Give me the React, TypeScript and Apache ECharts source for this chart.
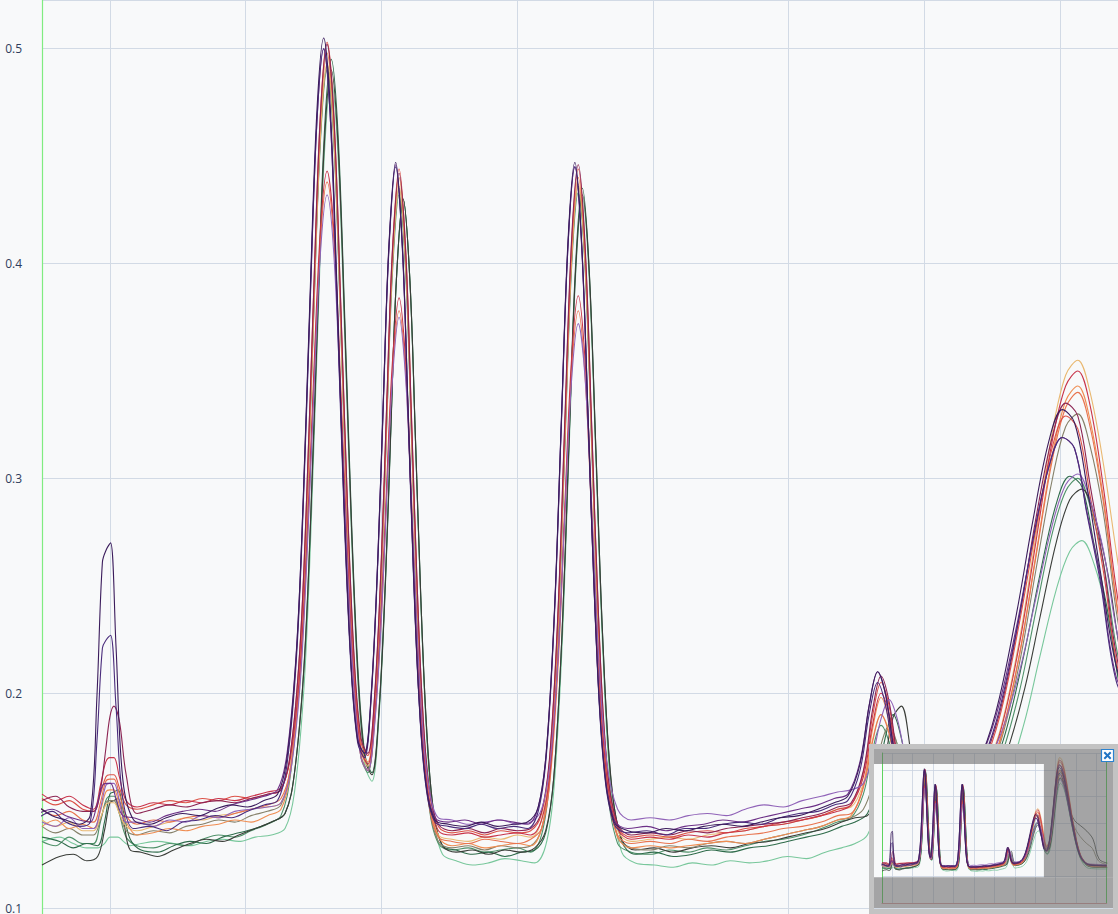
import React, { useEffect, useRef } from "react";
import * as echarts from "echarts";

// shared x positions (grid lines at integers)
const X = [
  0.5, 0.6, 0.7, 0.8,
  0.88, 0.93, 0.97, 1.0, 1.03, 1.07, 1.12,
  1.2, 1.32, 1.44, 1.56, 1.68, 1.8, 1.92, 2.04, 2.16, 2.26,
  2.33, 2.4, 2.45, 2.5, 2.55, 2.6, 2.65, 2.7, 2.75, 2.8, 2.85, 2.9, 2.95, 3.0, 3.04, 3.08, 3.13, 3.18, 3.22, 3.26, 3.3, 3.35, 3.42,
  3.52, 3.64, 3.76, 3.88, 4.0, 4.1,
  4.18, 4.24, 4.3, 4.35, 4.4, 4.45, 4.5, 4.55, 4.6, 4.66, 4.74,
  4.84, 4.98, 5.12, 5.26, 5.4, 5.54, 5.68, 5.82, 5.96, 6.1, 6.24, 6.36,
  6.46, 6.55, 6.62, 6.68, 6.74, 6.8, 6.88, 6.98,
  7.1, 7.25, 7.4, 7.55, 7.7, 7.82, 7.94, 8.04, 8.13, 8.22, 8.32, 8.44,
  8.56, 8.7, 8.85, 9.0, 9.1, 9.2, 9.3, 9.45, 9.65, 9.9, 10.2, 10.5, 10.8, 11.1, 11.5,
];
// sampling positions of the runs that elute slightly earlier
const X_EARLY = [
  0.475, 0.575, 0.675, 0.775,
  0.855, 0.905, 0.945, 0.975, 1.005, 1.045, 1.095,
  1.175, 1.295, 1.415, 1.535, 1.655, 1.775, 1.895, 2.015, 2.135, 2.235,
  2.305, 2.375, 2.425, 2.475, 2.525, 2.575, 2.625, 2.675, 2.725, 2.775, 2.825, 2.875, 2.925, 2.975, 3.015, 3.055, 3.105, 3.155, 3.195, 3.235, 3.275, 3.325, 3.395,
  3.495, 3.615, 3.735, 3.855, 3.975, 4.075,
  4.155, 4.215, 4.275, 4.325, 4.375, 4.425, 4.475, 4.525, 4.575, 4.635, 4.715,
  4.815, 4.955, 5.095, 5.235, 5.375, 5.515, 5.655, 5.795, 5.935, 6.075, 6.215, 6.335,
  6.435, 6.525, 6.595, 6.655, 6.715, 6.775, 6.855, 6.955,
  7.075, 7.225, 7.375, 7.525, 7.675, 7.795, 7.915, 8.015, 8.105, 8.195, 8.295, 8.415,
  8.535, 8.675, 8.825, 8.975, 9.075, 9.175, 9.275, 9.425, 9.625, 9.875, 10.175, 10.475, 10.775, 11.075, 11.5,
];
// sampling positions of the runs that elute slightly later
const X_LATE = [
  0.5, 0.63, 0.73, 0.83,
  0.91, 0.96, 1.0, 1.03, 1.06, 1.1, 1.15,
  1.23, 1.35, 1.47, 1.59, 1.71, 1.83, 1.95, 2.07, 2.19, 2.29,
  2.36, 2.43, 2.48, 2.53, 2.58, 2.63, 2.68, 2.73, 2.78, 2.83, 2.88, 2.93, 2.98, 3.03, 3.07, 3.11, 3.16, 3.21, 3.25, 3.29, 3.33, 3.38, 3.45,
  3.55, 3.67, 3.79, 3.91, 4.03, 4.13,
  4.21, 4.27, 4.33, 4.38, 4.43, 4.48, 4.53, 4.58, 4.63, 4.69, 4.77,
  4.87, 5.01, 5.15, 5.29, 5.43, 5.57, 5.71, 5.85, 5.99, 6.13, 6.27, 6.39,
  6.49, 6.58, 6.65, 6.71, 6.77, 6.83, 6.91, 7.01,
  7.13, 7.28, 7.43, 7.58, 7.73, 7.85, 7.97, 8.07, 8.16, 8.25, 8.35, 8.47,
  8.59, 8.73, 8.88, 9.03, 9.13, 9.23, 9.33, 9.48, 9.68, 9.93, 10.23, 10.53, 10.83, 11.13, 11.53,
];

const S01 = [
  0.147, 0.143, 0.141, 0.139,
  0.143, 0.199, 0.261, 0.267, 0.270, 0.222, 0.160,
  0.141, 0.139, 0.142, 0.144, 0.143, 0.146, 0.148, 0.147, 0.150, 0.153,
  0.170, 0.220, 0.292, 0.386, 0.471, 0.505, 0.471, 0.384, 0.288, 0.215, 0.178, 0.172, 0.199, 0.265, 0.338, 0.408, 0.447, 0.408, 0.335, 0.259, 0.200, 0.159, 0.141,
  0.139, 0.138, 0.140, 0.138, 0.139, 0.140,
  0.147, 0.173, 0.239, 0.326, 0.411, 0.447, 0.410, 0.324, 0.236, 0.169, 0.140,
  0.136, 0.135, 0.137, 0.136, 0.138, 0.139, 0.138, 0.140, 0.142, 0.143, 0.146, 0.149,
  0.152, 0.167, 0.195, 0.210, 0.199, 0.174, 0.154, 0.150,
  0.151, 0.154, 0.165, 0.191, 0.236, 0.279, 0.317, 0.332, 0.326, 0.297, 0.257, 0.212,
  0.195, 0.223, 0.315, 0.429, 0.488, 0.510, 0.502, 0.464, 0.382, 0.274, 0.181, 0.149, 0.142, 0.141, 0.140,
];
const S02 = [
  0.142, 0.145, 0.140, 0.138,
  0.140, 0.178, 0.221, 0.225, 0.227, 0.194, 0.151,
  0.137, 0.138, 0.136, 0.140, 0.141, 0.143, 0.142, 0.145, 0.148, 0.150,
  0.167, 0.217, 0.288, 0.381, 0.466, 0.500, 0.466, 0.377, 0.284, 0.213, 0.177, 0.170, 0.198, 0.263, 0.336, 0.406, 0.445, 0.406, 0.333, 0.257, 0.199, 0.158, 0.140,
  0.138, 0.137, 0.139, 0.137, 0.138, 0.137,
  0.145, 0.171, 0.237, 0.324, 0.409, 0.445, 0.408, 0.323, 0.235, 0.168, 0.139,
  0.135, 0.136, 0.134, 0.137, 0.137, 0.139, 0.140, 0.139, 0.142, 0.144, 0.145, 0.148,
  0.150, 0.164, 0.191, 0.205, 0.194, 0.171, 0.152, 0.148,
  0.149, 0.152, 0.162, 0.186, 0.228, 0.270, 0.305, 0.319, 0.314, 0.284, 0.252, 0.205,
  0.195, 0.220, 0.304, 0.412, 0.467, 0.488, 0.481, 0.445, 0.367, 0.265, 0.179, 0.148, 0.141, 0.140, 0.139,
];
const S03 = [
  0.140, 0.138, 0.142, 0.137,
  0.137, 0.146, 0.157, 0.158, 0.158, 0.150, 0.140,
  0.140, 0.138, 0.141, 0.140, 0.143, 0.142, 0.145, 0.146, 0.147, 0.149,
  0.163, 0.203, 0.261, 0.336, 0.404, 0.432, 0.404, 0.334, 0.258, 0.200, 0.170, 0.164, 0.185, 0.235, 0.292, 0.345, 0.375, 0.345, 0.290, 0.232, 0.187, 0.156, 0.142,
  0.141, 0.139, 0.140, 0.141, 0.139, 0.140,
  0.146, 0.166, 0.215, 0.281, 0.345, 0.372, 0.347, 0.283, 0.217, 0.168, 0.146,
  0.141, 0.142, 0.141, 0.143, 0.144, 0.143, 0.146, 0.148, 0.147, 0.150, 0.152, 0.154,
  0.155, 0.158, 0.171, 0.188, 0.197, 0.188, 0.166, 0.156,
  0.155, 0.157, 0.163, 0.179, 0.210, 0.244, 0.278, 0.297, 0.302, 0.290, 0.266, 0.222,
  0.205, 0.223, 0.297, 0.395, 0.446, 0.465, 0.458, 0.426, 0.355, 0.262, 0.180, 0.150, 0.146, 0.145, 0.144,
];
const S04 = [
  0.150, 0.152, 0.147, 0.145,
  0.145, 0.155, 0.174, 0.189, 0.194, 0.187, 0.162,
  0.144, 0.146, 0.148, 0.147, 0.149, 0.150, 0.149, 0.151, 0.153, 0.155,
  0.172, 0.221, 0.292, 0.384, 0.468, 0.502, 0.468, 0.382, 0.288, 0.216, 0.179, 0.172, 0.199, 0.263, 0.336, 0.404, 0.442, 0.404, 0.331, 0.256, 0.197, 0.157, 0.139,
  0.136, 0.137, 0.135, 0.137, 0.136, 0.137,
  0.145, 0.171, 0.237, 0.325, 0.410, 0.446, 0.409, 0.323, 0.235, 0.168, 0.139,
  0.134, 0.135, 0.134, 0.136, 0.135, 0.137, 0.138, 0.139, 0.140, 0.142, 0.144, 0.147,
  0.149, 0.164, 0.193, 0.208, 0.196, 0.171, 0.151, 0.147,
  0.149, 0.153, 0.164, 0.190, 0.236, 0.281, 0.319, 0.335, 0.329, 0.297, 0.260, 0.210,
  0.198, 0.226, 0.317, 0.435, 0.495, 0.518, 0.510, 0.471, 0.386, 0.276, 0.182, 0.149, 0.142, 0.141, 0.140,
];
const S05 = [
  0.153, 0.150, 0.152, 0.148,
  0.146, 0.157, 0.168, 0.170, 0.170, 0.161, 0.150,
  0.147, 0.149, 0.148, 0.150, 0.149, 0.151, 0.150, 0.152, 0.154, 0.156,
  0.170, 0.211, 0.269, 0.346, 0.415, 0.443, 0.415, 0.343, 0.265, 0.204, 0.173, 0.167, 0.189, 0.241, 0.299, 0.353, 0.384, 0.353, 0.294, 0.232, 0.184, 0.151, 0.136,
  0.134, 0.135, 0.133, 0.134, 0.135, 0.134,
  0.141, 0.162, 0.216, 0.286, 0.355, 0.385, 0.355, 0.286, 0.215, 0.161, 0.137,
  0.132, 0.133, 0.132, 0.134, 0.133, 0.135, 0.136, 0.138, 0.139, 0.141, 0.143, 0.145,
  0.148, 0.161, 0.186, 0.200, 0.190, 0.168, 0.150, 0.146,
  0.148, 0.150, 0.158, 0.180, 0.223, 0.270, 0.317, 0.343, 0.350, 0.334, 0.295, 0.238,
  0.212, 0.233, 0.326, 0.449, 0.513, 0.537, 0.529, 0.487, 0.398, 0.282, 0.184, 0.150, 0.142, 0.141, 0.140,
];
const S06 = [
  0.151, 0.148, 0.150, 0.146,
  0.145, 0.153, 0.161, 0.162, 0.162, 0.156, 0.148,
  0.146, 0.148, 0.150, 0.149, 0.151, 0.150, 0.152, 0.151, 0.153, 0.155,
  0.172, 0.221, 0.292, 0.385, 0.469, 0.503, 0.469, 0.382, 0.287, 0.214, 0.177, 0.171, 0.198, 0.263, 0.336, 0.405, 0.444, 0.405, 0.332, 0.256, 0.197, 0.156, 0.138,
  0.135, 0.136, 0.134, 0.136, 0.135, 0.136,
  0.144, 0.170, 0.236, 0.323, 0.408, 0.444, 0.407, 0.322, 0.234, 0.167, 0.138,
  0.133, 0.134, 0.133, 0.135, 0.136, 0.135, 0.137, 0.138, 0.140, 0.141, 0.143, 0.146,
  0.148, 0.163, 0.190, 0.205, 0.194, 0.170, 0.150, 0.146,
  0.148, 0.151, 0.162, 0.188, 0.233, 0.276, 0.314, 0.329, 0.323, 0.292, 0.256, 0.207,
  0.196, 0.221, 0.307, 0.418, 0.475, 0.497, 0.490, 0.453, 0.372, 0.268, 0.180, 0.149, 0.142, 0.141, 0.140,
];
const S07 = [
  0.146, 0.143, 0.145, 0.141,
  0.140, 0.149, 0.159, 0.160, 0.160, 0.153, 0.143,
  0.139, 0.141, 0.140, 0.142, 0.143, 0.142, 0.144, 0.146, 0.148, 0.151,
  0.165, 0.206, 0.264, 0.341, 0.410, 0.438, 0.410, 0.339, 0.261, 0.201, 0.170, 0.164, 0.186, 0.236, 0.294, 0.348, 0.378, 0.348, 0.289, 0.228, 0.180, 0.148, 0.133,
  0.131, 0.130, 0.132, 0.131, 0.130, 0.132,
  0.137, 0.158, 0.211, 0.281, 0.349, 0.378, 0.348, 0.280, 0.210, 0.157, 0.134,
  0.130, 0.131, 0.130, 0.132, 0.131, 0.133, 0.134, 0.135, 0.137, 0.138, 0.140, 0.143,
  0.144, 0.156, 0.178, 0.190, 0.181, 0.162, 0.146, 0.143,
  0.146, 0.148, 0.156, 0.177, 0.218, 0.263, 0.308, 0.333, 0.340, 0.324, 0.288, 0.232,
  0.205, 0.220, 0.298, 0.405, 0.459, 0.480, 0.473, 0.437, 0.361, 0.261, 0.176, 0.146, 0.139, 0.138, 0.138,
];
const S08 = [
  0.138, 0.141, 0.137, 0.139,
  0.137, 0.145, 0.154, 0.155, 0.155, 0.148, 0.140,
  0.134, 0.135, 0.137, 0.136, 0.138, 0.139, 0.141, 0.140, 0.143, 0.146,
  0.163, 0.213, 0.285, 0.379, 0.464, 0.498, 0.464, 0.378, 0.283, 0.211, 0.174, 0.168, 0.195, 0.259, 0.332, 0.401, 0.440, 0.401, 0.328, 0.252, 0.192, 0.151, 0.133,
  0.129, 0.130, 0.128, 0.129, 0.130, 0.129,
  0.137, 0.163, 0.230, 0.318, 0.403, 0.440, 0.403, 0.318, 0.229, 0.162, 0.133,
  0.128, 0.129, 0.128, 0.129, 0.130, 0.131, 0.130, 0.132, 0.134, 0.136, 0.138, 0.141,
  0.143, 0.157, 0.184, 0.198, 0.187, 0.164, 0.145, 0.141,
  0.144, 0.146, 0.154, 0.176, 0.218, 0.264, 0.310, 0.336, 0.343, 0.327, 0.290, 0.233,
  0.208, 0.229, 0.320, 0.443, 0.506, 0.530, 0.522, 0.481, 0.392, 0.277, 0.180, 0.146, 0.137, 0.136, 0.136,
];
const S09 = [
  0.141, 0.138, 0.140, 0.136,
  0.136, 0.142, 0.148, 0.149, 0.149, 0.144, 0.138,
  0.136, 0.138, 0.140, 0.142, 0.141, 0.143, 0.144, 0.146, 0.147, 0.149,
  0.166, 0.215, 0.285, 0.376, 0.459, 0.493, 0.459, 0.374, 0.281, 0.209, 0.173, 0.166, 0.193, 0.257, 0.330, 0.398, 0.436, 0.398, 0.326, 0.251, 0.192, 0.152, 0.134,
  0.132, 0.131, 0.133, 0.132, 0.134, 0.133,
  0.141, 0.166, 0.232, 0.318, 0.401, 0.437, 0.401, 0.317, 0.230, 0.165, 0.136,
  0.131, 0.132, 0.133, 0.132, 0.134, 0.135, 0.136, 0.138, 0.139, 0.141, 0.143, 0.146,
  0.147, 0.158, 0.179, 0.190, 0.182, 0.164, 0.149, 0.146,
  0.148, 0.150, 0.159, 0.181, 0.225, 0.273, 0.321, 0.348, 0.355, 0.340, 0.306, 0.255,
  0.216, 0.235, 0.330, 0.457, 0.522, 0.547, 0.539, 0.496, 0.405, 0.285, 0.186, 0.150, 0.142, 0.141, 0.141,
];
const S10 = [
  0.133, 0.131, 0.128, 0.130,
  0.129, 0.140, 0.153, 0.154, 0.155, 0.145, 0.132,
  0.127, 0.126, 0.129, 0.131, 0.130, 0.133, 0.135, 0.137, 0.140, 0.144,
  0.163, 0.213, 0.284, 0.377, 0.461, 0.495, 0.461, 0.375, 0.280, 0.208, 0.171, 0.163, 0.190, 0.254, 0.325, 0.392, 0.430, 0.392, 0.320, 0.245, 0.187, 0.147, 0.129,
  0.127, 0.125, 0.126, 0.124, 0.126, 0.127,
  0.135, 0.161, 0.227, 0.314, 0.399, 0.435, 0.398, 0.313, 0.226, 0.160, 0.131,
  0.125, 0.126, 0.124, 0.125, 0.127, 0.126, 0.128, 0.129, 0.131, 0.133, 0.135, 0.138,
  0.140, 0.144, 0.158, 0.179, 0.190, 0.179, 0.153, 0.141,
  0.143, 0.146, 0.155, 0.178, 0.217, 0.255, 0.288, 0.301, 0.296, 0.269, 0.238, 0.195,
  0.186, 0.216, 0.301, 0.412, 0.468, 0.490, 0.483, 0.446, 0.366, 0.262, 0.174, 0.142, 0.135, 0.134, 0.134,
];
const S11 = [
  0.131, 0.129, 0.133, 0.130,
  0.130, 0.140, 0.150, 0.152, 0.152, 0.144, 0.133,
  0.129, 0.128, 0.130, 0.129, 0.132, 0.134, 0.133, 0.136, 0.139, 0.143,
  0.162, 0.211, 0.281, 0.373, 0.456, 0.490, 0.456, 0.371, 0.278, 0.206, 0.170, 0.163, 0.190, 0.254, 0.326, 0.394, 0.432, 0.394, 0.322, 0.247, 0.188, 0.148, 0.130,
  0.127, 0.128, 0.126, 0.127, 0.128, 0.126,
  0.134, 0.160, 0.226, 0.312, 0.397, 0.433, 0.398, 0.313, 0.225, 0.159, 0.130,
  0.126, 0.125, 0.127, 0.126, 0.128, 0.127, 0.129, 0.131, 0.132, 0.134, 0.137, 0.140,
  0.142, 0.153, 0.174, 0.185, 0.177, 0.159, 0.144, 0.141,
  0.142, 0.144, 0.151, 0.168, 0.201, 0.238, 0.274, 0.294, 0.300, 0.287, 0.260, 0.213,
  0.195, 0.215, 0.292, 0.396, 0.450, 0.470, 0.463, 0.428, 0.353, 0.255, 0.171, 0.142, 0.135, 0.134, 0.134,
];
const S12 = [
  0.131, 0.133, 0.130, 0.128,
  0.128, 0.130, 0.133, 0.133, 0.133, 0.131, 0.129,
  0.130, 0.131, 0.130, 0.129, 0.131, 0.132, 0.131, 0.133, 0.134, 0.137,
  0.154, 0.203, 0.274, 0.367, 0.451, 0.485, 0.451, 0.366, 0.273, 0.202, 0.166, 0.159, 0.187, 0.251, 0.323, 0.392, 0.430, 0.392, 0.319, 0.243, 0.184, 0.143, 0.125,
  0.122, 0.120, 0.121, 0.123, 0.122, 0.121,
  0.129, 0.155, 0.221, 0.309, 0.394, 0.430, 0.394, 0.309, 0.221, 0.155, 0.126,
  0.121, 0.120, 0.119, 0.121, 0.120, 0.122, 0.121, 0.122, 0.124, 0.123, 0.126, 0.128,
  0.130, 0.134, 0.148, 0.169, 0.180, 0.169, 0.143, 0.131,
  0.133, 0.135, 0.141, 0.156, 0.185, 0.217, 0.248, 0.266, 0.271, 0.260, 0.236, 0.195,
  0.182, 0.202, 0.278, 0.379, 0.430, 0.450, 0.443, 0.410, 0.337, 0.242, 0.164, 0.133, 0.129, 0.128, 0.128,
];
const S13 = [
  0.120, 0.124, 0.125, 0.122,
  0.124, 0.136, 0.149, 0.150, 0.151, 0.141, 0.127,
  0.126, 0.124, 0.127, 0.130, 0.132, 0.131, 0.134, 0.137, 0.140, 0.144,
  0.163, 0.212, 0.282, 0.373, 0.456, 0.490, 0.456, 0.371, 0.277, 0.205, 0.169, 0.162, 0.189, 0.252, 0.324, 0.392, 0.430, 0.392, 0.320, 0.245, 0.187, 0.147, 0.129,
  0.126, 0.127, 0.125, 0.127, 0.126, 0.128,
  0.136, 0.161, 0.227, 0.313, 0.396, 0.432, 0.397, 0.313, 0.226, 0.161, 0.132,
  0.127, 0.128, 0.126, 0.128, 0.129, 0.128, 0.130, 0.131, 0.133, 0.135, 0.137, 0.140,
  0.142, 0.143, 0.151, 0.169, 0.189, 0.194, 0.169, 0.145,
  0.143, 0.145, 0.152, 0.168, 0.200, 0.235, 0.270, 0.290, 0.295, 0.283, 0.256, 0.211,
  0.195, 0.214, 0.293, 0.396, 0.450, 0.470, 0.463, 0.428, 0.354, 0.310, 0.290, 0.270, 0.240, 0.165, 0.150,
];
const S14 = [
  0.138, 0.135, 0.137, 0.134,
  0.134, 0.141, 0.149, 0.150, 0.150, 0.144, 0.136,
  0.134, 0.136, 0.135, 0.138, 0.139, 0.141, 0.140, 0.143, 0.145, 0.148,
  0.165, 0.214, 0.284, 0.375, 0.458, 0.492, 0.458, 0.373, 0.279, 0.207, 0.171, 0.164, 0.191, 0.256, 0.328, 0.397, 0.435, 0.397, 0.324, 0.248, 0.189, 0.149, 0.131,
  0.128, 0.129, 0.127, 0.129, 0.128, 0.129,
  0.137, 0.163, 0.229, 0.315, 0.400, 0.436, 0.400, 0.315, 0.228, 0.162, 0.133,
  0.128, 0.127, 0.129, 0.128, 0.130, 0.131, 0.130, 0.132, 0.134, 0.136, 0.138, 0.141,
  0.142, 0.146, 0.158, 0.176, 0.185, 0.176, 0.153, 0.143,
  0.145, 0.147, 0.154, 0.175, 0.214, 0.257, 0.299, 0.324, 0.330, 0.315, 0.283, 0.228,
  0.204, 0.223, 0.307, 0.420, 0.478, 0.500, 0.493, 0.455, 0.373, 0.290, 0.250, 0.225, 0.205, 0.158, 0.145,
];
const S15 = [
  0.144, 0.146, 0.143, 0.141,
  0.140, 0.148, 0.157, 0.158, 0.158, 0.151, 0.143,
  0.142, 0.140, 0.143, 0.145, 0.146, 0.145, 0.148, 0.150, 0.152, 0.155,
  0.172, 0.221, 0.291, 0.383, 0.466, 0.500, 0.466, 0.381, 0.287, 0.215, 0.179, 0.172, 0.200, 0.265, 0.338, 0.407, 0.446, 0.407, 0.335, 0.259, 0.200, 0.160, 0.142,
  0.140, 0.141, 0.139, 0.141, 0.140, 0.139,
  0.147, 0.173, 0.238, 0.325, 0.409, 0.445, 0.409, 0.324, 0.236, 0.170, 0.141,
  0.137, 0.138, 0.136, 0.138, 0.139, 0.141, 0.140, 0.142, 0.144, 0.146, 0.148, 0.151,
  0.153, 0.168, 0.195, 0.210, 0.199, 0.175, 0.155, 0.151,
  0.152, 0.155, 0.165, 0.189, 0.230, 0.270, 0.305, 0.319, 0.314, 0.285, 0.254, 0.207,
  0.198, 0.229, 0.320, 0.437, 0.497, 0.520, 0.512, 0.473, 0.389, 0.278, 0.184, 0.151, 0.144, 0.143, 0.142,
];

// drawing order: first drawn at the bottom
const SERIES_DATA = [S12, S11, S10, S13, S14, S09, S08, S07, S06, S05, S04, S03, S15, S02, S01];
const SERIES_X = [X_LATE, X, X_LATE, X_LATE, X, X, X, X, X, X, X, X, X_EARLY, X_EARLY, X_EARLY];
const SERIES_COLORS = [
  "#78c79b", "#4f9169", "#2e6b4a", "#3a3d38", "#858069", "#e9b870", "#ef8d52", "#e8744f",
  "#dc5247", "#c8344a", "#8c2452", "#9063b8", "#6c3087", "#4a2c7c", "#3b1c5c",
];
const SERIES_NAMES = ["S12", "S11", "S10", "S13", "S14", "S09", "S08", "S07", "S06", "S05", "S04", "S03", "S15", "S02", "S01"];

// visible window of the main view, and full extent shown in the overview
const MAIN_X_RANGE = [0.5, 8.4257];
const MAIN_Y_RANGE = [0.09723, 0.52266];
const FULL_X_RANGE = [0.5, 11.5];
const FULL_Y_RANGE = [0, 0.564];

const FONT = "'Segoe UI', 'Open Sans', 'Noto Sans', sans-serif";

export default function App() {
  const ref = useRef<HTMLDivElement>(null);

  useEffect(() => {
    if (!ref.current) return;
    const chart = echarts.init(ref.current, null, { renderer: "svg" });

    const series: any[] = [];
    SERIES_DATA.forEach((ys, k) => {
      const xs = SERIES_X[k];
      series.push({
        name: SERIES_NAMES[k],
        type: "line",
        xAxisIndex: 0,
        yAxisIndex: 0,
        data: xs.map((x, i) => [x, ys[i]]),
        showSymbol: false,
        symbol: "none",
        smooth: 0.35,
        silent: true,
        z: 2,
        lineStyle: { color: SERIES_COLORS[k], width: 1.1 },
      });
    });
    SERIES_DATA.forEach((ys, k) => {
      const xs = SERIES_X[k];
      series.push({
        name: SERIES_NAMES[k] + "-overview",
        type: "line",
        xAxisIndex: 1,
        yAxisIndex: 1,
        data: xs.map((x, i) => [x, ys[i]]),
        showSymbol: false,
        symbol: "none",
        smooth: 0.35,
        silent: true,
        z: 10,
        lineStyle: { color: SERIES_COLORS[k], width: 0.8 },
      });
    });

    const isTenth = (v: number) => Math.abs(v * 10 - Math.round(v * 10)) < 1e-6;

    chart.setOption({
      animation: false,
      backgroundColor: "#f8f9fa",
      grid: [
        { left: 42, right: -3, top: -3, bottom: -3 },
        { left: 882, top: 753, width: 224.7, height: 150 },
      ],
      xAxis: [
        {
          type: "value",
          gridIndex: 0,
          min: MAIN_X_RANGE[0],
          max: MAIN_X_RANGE[1],
          splitNumber: 8,
          axisLine: { show: false },
          axisTick: { show: false },
          axisLabel: { show: false },
          splitLine: { show: true, lineStyle: { color: "#d2dae5", width: 1 } },
        },
        {
          type: "value",
          gridIndex: 1,
          min: FULL_X_RANGE[0],
          max: FULL_X_RANGE[1],
          splitNumber: 11,
          z: 6,
          axisLine: { show: true, onZero: false, lineStyle: { color: "#d9a0a0", width: 1 } },
          axisTick: { show: false },
          axisLabel: { show: false },
          splitLine: { show: true, lineStyle: { color: "#c9d2df", width: 0.8 } },
        },
      ],
      yAxis: [
        {
          type: "value",
          gridIndex: 0,
          min: MAIN_Y_RANGE[0],
          max: MAIN_Y_RANGE[1],
          splitNumber: 4,
          z: 1,
          axisLine: { show: true, onZero: false, lineStyle: { color: "#80ec80", width: 1.2 } },
          axisTick: { show: false },
          axisLabel: {
            margin: 20,
            color: "#2f3d5c",
            fontSize: 12,
            fontFamily: FONT,
            formatter: (v: number) => (isTenth(v) ? v.toFixed(1) : ""),
          },
          splitLine: { show: true, lineStyle: { color: "#d2dae5", width: 1 } },
        },
        {
          type: "value",
          gridIndex: 1,
          min: FULL_Y_RANGE[0],
          max: FULL_Y_RANGE[1],
          splitNumber: 5,
          z: 6,
          axisLine: { show: true, onZero: false, lineStyle: { color: "#5ed35e", width: 1 } },
          axisTick: { show: false },
          axisLabel: { show: false },
          splitLine: { show: true, lineStyle: { color: "#c9d2df", width: 0.8 } },
        },
        {
          type: "value",
          gridIndex: 1,
          position: "right",
          min: FULL_Y_RANGE[0],
          max: FULL_Y_RANGE[1],
          z: 6,
          axisLine: { show: true, onZero: false, lineStyle: { color: "#5ed35e", width: 1 } },
          axisTick: { show: false },
          axisLabel: { show: false },
          splitLine: { show: false },
        },
      ],
      series,
    });

    // overview panel: viewport rectangle derived from the main view's extent
    const pTopRight = chart.convertToPixel({ gridIndex: 1 } as any, [MAIN_X_RANGE[1], MAIN_Y_RANGE[1]]) as number[];
    const pBottom = chart.convertToPixel({ gridIndex: 1 } as any, [MAIN_X_RANGE[0], MAIN_Y_RANGE[0]]) as number[];
    const inL = 874, inT = 749, inR = 1113, inB = 908;
    const vpL = inL;
    const vpR = pTopRight[0];
    const vpT = pTopRight[1];
    const vpB = pBottom[1];
    const shade = "rgba(100,100,100,0.57)";

    chart.setOption({
      graphic: [
        { type: "rect", z: 5, silent: true, shape: { x: inL, y: inT, width: inR - inL, height: inB - inT }, style: { fill: "#f8f9fa" } },
        { type: "rect", z: 20, silent: true, shape: { x: inL, y: inT, width: inR - inL, height: vpT - inT }, style: { fill: shade } },
        { type: "rect", z: 20, silent: true, shape: { x: inL, y: vpB, width: inR - inL, height: inB - vpB }, style: { fill: shade } },
        { type: "rect", z: 20, silent: true, shape: { x: vpR, y: vpT, width: inR - vpR, height: vpB - vpT }, style: { fill: shade } },
        { type: "rect", z: 20, silent: true, shape: { x: inL, y: vpT, width: Math.max(0, vpL - inL), height: vpB - vpT }, style: { fill: shade } },
        { type: "rect", z: 21, silent: true, shape: { x: 871.5, y: 746.5, width: 244, height: 165 }, style: { fill: "none", stroke: "#c3c3c3", lineWidth: 5 } },
        { type: "rect", z: 22, silent: true, shape: { x: 1101.5, y: 749.5, width: 12, height: 12 }, style: { fill: "#ffffff", stroke: "#2a82d0", lineWidth: 1.2 } },
        { type: "line", z: 23, silent: true, shape: { x1: 1104.3, y1: 752.3, x2: 1110.7, y2: 758.7 }, style: { stroke: "#1f74c4", lineWidth: 2 } },
        { type: "line", z: 23, silent: true, shape: { x1: 1110.7, y1: 752.3, x2: 1104.3, y2: 758.7 }, style: { stroke: "#1f74c4", lineWidth: 2 } },
      ],
    });

    return () => chart.dispose();
  }, []);

  return (
    <div
      ref={ref}
      style={{ position: "fixed", left: 0, top: 0, width: 1118, height: 914 }}
    />
  );
}
